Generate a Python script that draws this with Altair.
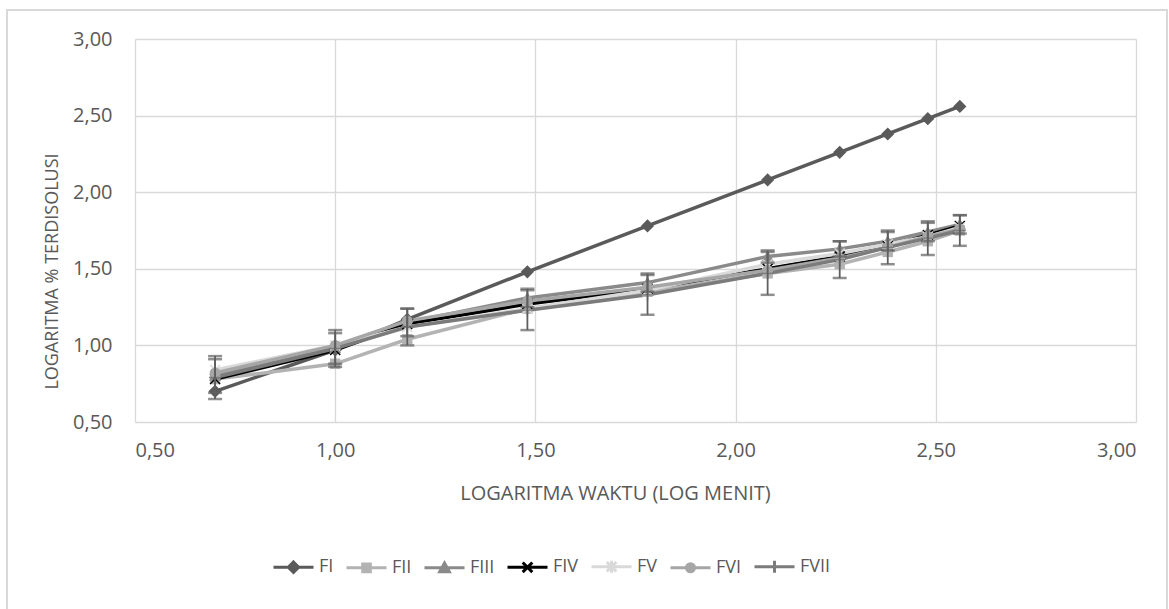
import altair as alt
import pandas as pd

# ---------------- data ----------------
log_time = [0.70, 1.00, 1.18, 1.48, 1.78, 2.08, 2.26, 2.38, 2.48, 2.56]
series_names = ["FI", "FII", "FIII", "FIV", "FV", "FVI", "FVII"]

FI = [0.70, 0.97, 1.17, 1.48, 1.78, 2.08, 2.26, 2.38, 2.48, 2.56]
FII = [0.78, 0.88, 1.04, 1.24, 1.35, 1.47, 1.53, 1.61, 1.68, 1.75]
FIII = [0.80, 0.98, 1.15, 1.31, 1.41, 1.58, 1.63, 1.68, 1.74, 1.79]
FIV = [0.78, 0.97, 1.14, 1.27, 1.37, 1.50, 1.58, 1.65, 1.72, 1.78]
FV = [0.84, 1.00, 1.12, 1.24, 1.36, 1.53, 1.60, 1.66, 1.71, 1.77]
FVI = [0.82, 1.00, 1.16, 1.29, 1.38, 1.49, 1.57, 1.64, 1.71, 1.76]
FVII = [0.79, 0.98, 1.12, 1.23, 1.33, 1.47, 1.56, 1.64, 1.70, 1.75]

# error (standard deviation) values
FIII_err = [0.11, 0.10, 0.09, 0.06, 0.06, 0.04, 0.05, 0.06, 0.06, 0.06]
FVII_err = [0.14, 0.12, 0.12, 0.13, 0.13, 0.14, 0.12, 0.11, 0.11, 0.10]

series_values = [FI, FII, FIII, FIV, FV, FVI, FVII]
series_colors = ["#5a5a5a", "#b3b3b3", "#8a8a8a", "#000000", "#d9d9d9", "#a6a6a6", "#7b7b7b"]
series_widths = [3.5, 3.5, 3.5, 1.5, 3.5, 3.5, 3.5]

# plot marker shapes (custom paths inside the [-1, 1] box)
diamond = "M0,-0.33L0.33,0L0,0.33L-0.33,0Z"
square = "M-0.26,-0.26L0.26,-0.26L0.26,0.26L-0.26,0.26Z"
triangle = "M0,-0.3L0.3,0.24L-0.3,0.24Z"
xmark = ("M-0.275,-0.225L0.225,0.275L0.275,0.225L-0.225,-0.275Z"
         "M-0.225,0.275L0.275,-0.225L0.225,-0.275L-0.275,0.225Z")
asterisk = xmark + "M-0.03,-0.32L-0.03,0.32L0.03,0.32L0.03,-0.32Z"
circle = "M0.27,0A0.27,0.27 0 1,1 -0.27,0A0.27,0.27 0 1,1 0.27,0Z"
plus = ("M-0.3,-0.035L-0.3,0.035L0.3,0.035L0.3,-0.035Z"
        "M-0.035,-0.3L-0.035,0.3L0.035,0.3L0.035,-0.3Z")
series_shapes = [diamond, square, triangle, xmark, asterisk, circle, plus]

# legend symbols: a line with the marker on it
seg = "M-1,0L1,0"
legend_shapes = [
    seg + "M0,-0.26L0.26,0L0,0.26L-0.26,0Z",
    seg + "M-0.19,-0.19L0.19,-0.19L0.19,0.19L-0.19,0.19Z",
    seg + "M0,-0.24L0.24,0.19L-0.24,0.19Z",
    seg + "M-0.24,-0.24L0.24,0.24M-0.24,0.24L0.24,-0.24",
    seg + "M-0.24,-0.24L0.24,0.24M-0.24,0.24L0.24,-0.24M0,-0.3L0,0.3",
    seg + "M0.2,0A0.2,0.2 0 1,1 -0.2,0A0.2,0.2 0 1,1 0.2,0Z",
    seg + "M0,-0.3L0,0.3",
]

rows = []
for name, vals in zip(series_names, series_values):
    for i, (x, y) in enumerate(zip(log_time, vals)):
        rows.append({"series": name, "x": x, "y": y, "idx": i})
df = pd.DataFrame(rows)

err_rows = []
for name, vals, errs in [("FIII", FIII, FIII_err), ("FVII", FVII, FVII_err)]:
    for x, y, e in zip(log_time, vals, errs):
        err_rows.append({"series": name, "x": x, "lo": y - e, "hi": y + e})
err_df = pd.DataFrame(err_rows)

# ---------------- chart ----------------
FONT = "Open Sans"
TXT = "#595959"
W, H = 1001, 383
tick_vals = [0.5, 1.0, 1.5, 2.0, 2.5, 3.0]
label_expr = "replace(format(datum.value, '.2f'), '.', ',')"

x_scale = alt.Scale(domain=[0.5, 3.0], nice=False, zero=False)
y_scale = alt.Scale(domain=[0.5, 3.0], nice=False, zero=False)

x_axis = alt.Axis(values=tick_vals, labelExpr=label_expr, title="LOGARITMA WAKTU (LOG MENIT)",
                  grid=True, gridColor="#d9d9d9", gridWidth=1.3, domain=False, ticks=False, tickSize=0,
                  labelPadding=18, labelFont=FONT, labelFontSize=20, labelColor=TXT,
                  titleFont=FONT, titleFontSize=20, titleColor=TXT, titleFontWeight="normal",
                  titleY=71, titleX=480, titleBaseline="middle", titleAlign="center")
y_axis = alt.Axis(values=tick_vals, labelExpr=label_expr, title="LOGARITMA % TERDISOLUSI",
                  grid=True, gridColor="#d9d9d9", gridWidth=1.3, domain=False, ticks=False, tickSize=0,
                  labelPadding=23, labelFont=FONT, labelFontSize=20, labelColor=TXT,
                  titleFont=FONT, titleFontSize=18, titleColor=TXT, titleFontWeight="normal",
                  titleX=-83, titleY=232, titleBaseline="middle", titleAlign="center")

legend = alt.Legend(orient="none", legendX=137, legendY=506, direction="horizontal",
                    title=None, symbolSize=1600, symbolStrokeWidth=3, labelFont=FONT,
                    labelFontSize=18, labelColor=TXT, labelOffset=4, columnPadding=6)

base = alt.Chart(df)

frame = alt.Chart(df).mark_rect(fill=None, stroke="#d9d9d9", strokeWidth=1.3, clip=False).encode(
    x=alt.value(-128), x2=alt.value(1032), y=alt.value(-29), y2=alt.value(575)
)

lines = base.mark_line().encode(
    x=alt.X("x:Q", scale=x_scale, axis=x_axis),
    y=alt.Y("y:Q", scale=y_scale, axis=y_axis),
    stroke=alt.Stroke("series:N", scale=alt.Scale(domain=series_names, range=series_colors), legend=None),
    strokeWidth=alt.StrokeWidth("series:N", scale=alt.Scale(domain=series_names, range=series_widths),
                                legend=None),
    order="idx:Q",
)

points = base.mark_point(filled=True, size=1600, opacity=1).encode(
    x=alt.X("x:Q", scale=x_scale),
    y=alt.Y("y:Q", scale=y_scale),
    fill=alt.Fill("series:N", scale=alt.Scale(domain=series_names, range=series_colors), legend=None),
    shape=alt.Shape("series:N", scale=alt.Scale(domain=series_names, range=series_shapes), legend=None),
)

legend_layer = base.transform_filter("false").mark_point(filled=True, size=1600, opacity=1, strokeWidth=3).encode(
    x=alt.X("x:Q", scale=x_scale),
    y=alt.Y("y:Q", scale=y_scale),
    fill=alt.Fill("series:N", scale=alt.Scale(domain=series_names, range=series_colors), legend=legend),
    stroke=alt.Stroke("series:N", scale=alt.Scale(domain=series_names, range=series_colors), legend=legend),
    shape=alt.Shape("series:N", scale=alt.Scale(domain=series_names, range=legend_shapes), legend=legend),
)

err_base = alt.Chart(err_df)
err_rule = err_base.mark_rule(color="#5f5f5f", strokeWidth=1.8).encode(
    x=alt.X("x:Q", scale=x_scale), y=alt.Y("lo:Q", scale=y_scale), y2="hi:Q"
)
err_top = err_base.mark_tick(color="#5f5f5f", orient="horizontal", size=14, thickness=2.5).encode(
    x=alt.X("x:Q", scale=x_scale), y=alt.Y("hi:Q", scale=y_scale)
)
err_bot = err_base.mark_tick(color="#5f5f5f", orient="horizontal", size=14, thickness=2.5).encode(
    x=alt.X("x:Q", scale=x_scale), y=alt.Y("lo:Q", scale=y_scale)
)

chart = alt.layer(frame, lines, points, err_rule, err_top, err_bot, legend_layer).properties(
    width=W, height=H,
    autosize=alt.AutoSizeParams(type="none"),
    padding={"left": 135, "top": 39, "right": 33, "bottom": 187},
    background="white",
).configure_view(stroke=None).resolve_scale(stroke="independent", fill="independent", shape="independent")

chart.save("out.html", embed_options={"renderer": "svg", "actions": False})
